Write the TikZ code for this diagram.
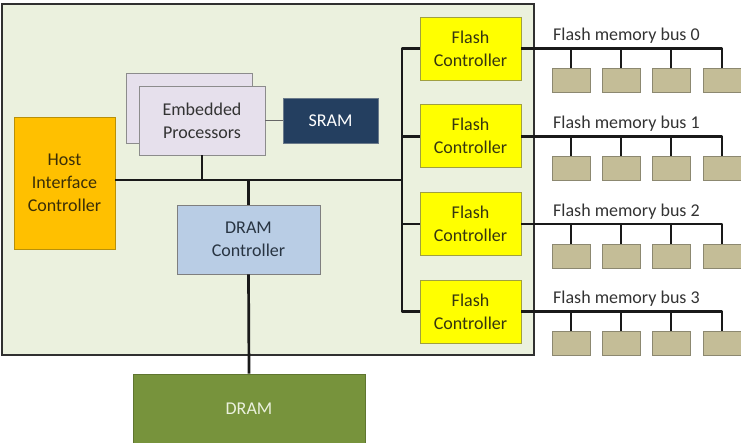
\documentclass[tikz,border=0pt]{standalone}
\usepackage{fontspec}
\setmainfont{Carlito}
\definecolor{socfill}{HTML}{EBF1DE}
\definecolor{socdraw}{HTML}{303030}
\definecolor{hostfill}{HTML}{FFC000}
\definecolor{hostdraw}{HTML}{B8900A}
\definecolor{hosttext}{HTML}{3A2E08}
\definecolor{epfill}{HTML}{E6E0EC}
\definecolor{epdraw}{HTML}{8C8C8C}
\definecolor{eptext}{HTML}{333333}
\definecolor{sramfill}{HTML}{243F60}
\definecolor{sramdraw}{HTML}{6A7A8A}
\definecolor{dcfill}{HTML}{B9CDE5}
\definecolor{dcdraw}{HTML}{7F7F7F}
\definecolor{dctext}{HTML}{283442}
\definecolor{dramfill}{HTML}{77933C}
\definecolor{dramdraw}{HTML}{5F7530}
\definecolor{dramtext}{HTML}{EBF1DE}
\definecolor{fcfill}{HTML}{FFFF00}
\definecolor{fcdraw}{HTML}{A0A040}
\definecolor{fctext}{HTML}{363610}
\definecolor{chipfill}{HTML}{C4BD97}
\definecolor{chipdraw}{HTML}{8C8870}
\definecolor{labtext}{HTML}{333333}
\begin{document}
\begin{tikzpicture}[x=1pt,y=-1pt,
  box/.style={draw, line width=0.8pt, inner sep=0pt, align=center,
    font=\fontsize{18}{23}\selectfont},
  fcbox/.style={box, fill=fcfill, draw=fcdraw, text=fctext,
    minimum width=101pt, minimum height=63pt},
  chipbox/.style={draw=chipdraw, fill=chipfill, line width=0.8pt, inner sep=0pt,
    minimum width=38pt, minimum height=24pt},
  bus/.style={line width=2.7pt, black!90, line join=round},
  thinline/.style={line width=1.3pt, black!60},
  lab/.style={anchor=base west, inner sep=0pt, text=labtext,
    font=\fontsize{18}{23}\selectfont}]
\useasboundingbox (0,0) rectangle (741,443);
\clip (0,0) rectangle (741,443);

% chip container
\node[draw=socdraw, fill=socfill, line width=1.8pt, inner sep=0pt,
  minimum width=532pt, minimum height=351pt] (soc) at (268,179.5) {};

% blocks
\node[box, fill=hostfill, draw=hostdraw, text=hosttext,
  minimum width=101pt, minimum height=132pt] (host) at (64.5,183) {Host\\Interface\\Controller};
\node[box, fill=epfill, draw=epdraw, minimum width=126pt, minimum height=70pt] (epback) at (189,108) {};
\node[box, fill=epfill, draw=epdraw, text=eptext,
  minimum width=126pt, minimum height=69pt] (ep) at (202,120.5) {Embedded\\Processors};
\node[box, fill=sramfill, draw=sramdraw, text=white,
  minimum width=95pt, minimum height=45pt] (sram) at (330.5,120.5) {SRAM};
\node[box, fill=dcfill, draw=dcdraw, text=dctext,
  minimum width=143pt, minimum height=69pt] (dc) at (248.5,239.5) {DRAM\\Controller};
\node[box, fill=dramfill, draw=dramdraw, text=dramtext,
  minimum width=232pt, minimum height=70pt] (dram) at (249,409) {DRAM};

\foreach \i/\y in {0/48.5,1/136.2,2/224,3/311.5}{
  \node[fcbox] (fc\i) at (470.5,\y) {Flash\\Controller};
  \node[lab] (lab\i) at (553,\y-7.5) {Flash memory bus \i};
  \foreach \j/\x in {1/571,2/621,3/671,4/722}{
    \node[chipbox] (m\i\j) at (\x,\y+32) {};
  }
  \draw[bus] (fc\i.east) -- (m\i4.north |- fc\i.east) -- (m\i4.north);
  \foreach \j in {1,2,3}{
    \draw[bus] (m\i\j.north |- fc\i.east) -- (m\i\j.north);
  }
}

% connectors
\coordinate (busy) at (0,180);
\coordinate (fx) at (402,0);
\draw[thinline] (ep.east) -- (sram.west);
\draw[bus] (host.east |- busy) -- (fx |- busy);
\draw[bus] (fc0.west) -- (fx |- fc0.west) -- (fx |- fc3.west) -- (fc3.west);
\draw[bus] (fx |- fc1.west) -- (fc1.west);
\draw[bus] (fx |- fc2.west) -- (fc2.west);
\draw[bus] (ep.south) -- (ep.south |- busy);
\draw[bus] (dc.north) -- (dc.north |- busy);
\draw[bus] (dc.south) -- (dram.north);
\end{tikzpicture}
\end{document}
